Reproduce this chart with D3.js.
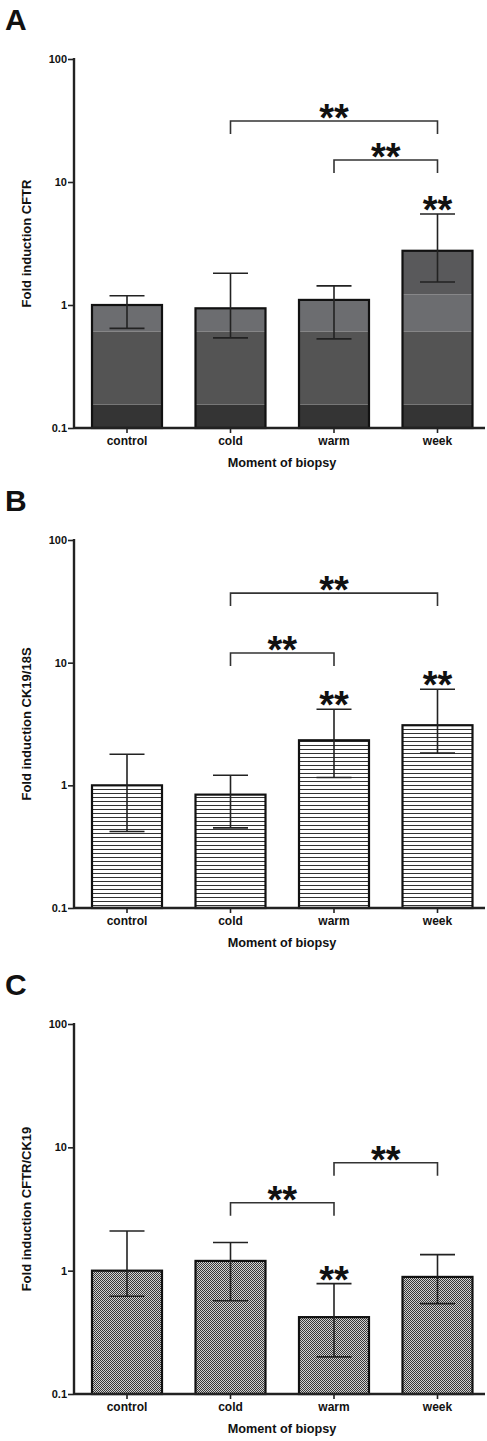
<!DOCTYPE html>
<html><head><meta charset="utf-8">
<script src="https://cdn.jsdelivr.net/npm/d3@7"></script>
<style>body{margin:0;background:#fff}svg{display:block}text{font-family:"Liberation Sans",Arial,sans-serif;font-weight:bold;fill:#111}</style>
</head><body>
<script>
const categories = ["control", "cold", "warm", "week"];
const panelLetters = ["A", "B", "C"];
const yAxisTitles = ["Fold induction CFTR", "Fold induction CK19/18S", "Fold induction CFTR/CK19"];
const xAxisTitle = "Moment of biopsy";
const yTickValues = [0.1, 1, 10, 100];
const yTickLabels = ["0.1", "1", "10", "100"];

const meanA = [1.00, 0.94, 1.10, 2.76];
const lowA  = [0.646, 0.54, 0.53, 1.54];
const highA = [1.19, 1.81, 1.43, 5.5];

const meanB = [1.00, 0.84, 2.33, 3.09];
const lowB  = [0.42, 0.45, 1.16, 1.83];
const highB = [1.79, 1.21, 4.17, 6.07];

const meanC = [1.00, 1.20, 0.42, 0.89];
const lowC  = [0.62, 0.57, 0.20, 0.54];
const highC = [2.10, 1.69, 0.785, 1.35];

// significance brackets: [from, to, level]
const bracketsA = [["cold", "week", 31.3], ["warm", "week", 15.1]];
const bracketsB = [["cold", "week", 36.9], ["cold", "warm", 12.0]];
const bracketsC = [["warm", "week", 7.49], ["cold", "warm", 3.55]];
// stars above individual bars
const starsA = ["week"];
const starsB = ["warm", "week"];
const starsC = ["warm"];

const panels = [
  {mean: meanA, low: lowA, high: highA, brackets: bracketsA, stars: starsA, top: 59, bottom: 428, fill: "bands"},
  {mean: meanB, low: lowB, high: highB, brackets: bracketsB, stars: starsB, top: 540, bottom: 908, fill: "url(#hlines)"},
  {mean: meanC, low: lowC, high: highC, brackets: bracketsC, stars: starsC, top: 1024, bottom: 1394, fill: "url(#checker)"}
];
const bandStyle = [[0.1, 0.155, "#343434"], [0.155, 0.61, "#545454"], [0.61, 1.22, "#6c6d70"], [1.22, 1000, "#59595b"]];

const W = 487, H = 1441;
const svg = d3.select("body").append("svg").attr("width", W).attr("height", H);
const defs = svg.append("defs");
const hl = defs.append("pattern").attr("id", "hlines").attr("patternUnits", "userSpaceOnUse").attr("width", 8).attr("height", 4);
hl.append("rect").attr("width", 8).attr("height", 4).attr("fill", "#fff");
hl.append("rect").attr("y", 1).attr("width", 8).attr("height", 1).attr("fill", "#333");
const ck = defs.append("pattern").attr("id", "checker").attr("patternUnits", "userSpaceOnUse").attr("width", 2).attr("height", 2);
ck.append("rect").attr("width", 2).attr("height", 2).attr("fill", "#d2d2d2");
ck.append("rect").attr("width", 1).attr("height", 1).attr("fill", "#383838");
ck.append("rect").attr("x", 1).attr("y", 1).attr("width", 1).attr("height", 1).attr("fill", "#383838");

const x = d3.scaleBand().domain(categories).range([75.25, 489.25]).paddingInner(0.3237).paddingOuter(0.3237 / 2);
const axisX0 = 74, axisX1 = 485;

panels.forEach((p, pi) => {
  const g = svg.append("g");
  const y = d3.scaleLog().domain([0.1, 100]).range([p.bottom, p.top]);

  g.append("text").attr("x", 5).attr("y", p.top - 29).attr("font-size", 30).text(panelLetters[pi]);

  // bars
  categories.forEach((c, i) => {
    const x0 = x(c), bw = x.bandwidth(), m = p.mean[i];
    if (p.fill === "bands") {
      bandStyle.forEach(([lo, hi, col]) => {
        const top = Math.min(hi, m);
        if (top > lo) g.append("rect").attr("x", x0).attr("width", bw)
          .attr("y", y(top)).attr("height", y(lo) - y(top)).attr("fill", col);
      });
    } else {
      g.append("rect").attr("x", x0).attr("width", bw).attr("y", y(m)).attr("height", y(0.1) - y(m)).attr("fill", p.fill);
    }
    g.append("rect").attr("x", x0).attr("width", bw).attr("y", y(m)).attr("height", y(0.1) - y(m))
      .attr("fill", "none").attr("stroke", "#111").attr("stroke-width", 2.2);
    // error bars
    const cx = x0 + bw / 2, cw = 17.5;
    g.append("line").attr("x1", cx).attr("x2", cx).attr("y1", y(p.low[i])).attr("y2", y(p.high[i])).attr("stroke", "#222").attr("stroke-width", 1.6);
    [p.low[i], p.high[i]].forEach(v => g.append("line").attr("x1", cx - cw).attr("x2", cx + cw).attr("y1", y(v)).attr("y2", y(v)).attr("stroke", "#222").attr("stroke-width", 1.6));
  });

  // axes
  const ya = d3.axisLeft(y).tickValues(yTickValues).tickFormat((d, i) => yTickLabels[i]).tickSize(6).tickPadding(1);
  const yg = g.append("g").attr("transform", `translate(${axisX0},0)`).call(ya);
  yg.select(".domain").remove();
  yg.selectAll("line").attr("stroke", "#222").attr("stroke-width", 1.6);
  yg.selectAll("text").attr("font-size", 11).attr("font-family", "Liberation Sans, Arial, sans-serif").attr("font-weight", "bold").attr("fill", "#111");
  g.append("line").attr("x1", axisX0).attr("x2", axisX0).attr("y1", p.top - 1).attr("y2", p.bottom).attr("stroke", "#222").attr("stroke-width", 2.4);

  const xa = d3.axisBottom(x).tickSize(5).tickPadding(3);
  const xg = g.append("g").attr("transform", `translate(0,${p.bottom})`).call(xa);
  xg.select(".domain").remove();
  xg.selectAll("line").attr("stroke", "#222").attr("stroke-width", 1.6);
  xg.selectAll("text").attr("font-size", 12).attr("font-family", "Liberation Sans, Arial, sans-serif").attr("font-weight", "bold").attr("fill", "#111");
  g.append("line").attr("x1", axisX0).attr("x2", axisX1).attr("y1", p.bottom).attr("y2", p.bottom).attr("stroke", "#222").attr("stroke-width", 2.4);

  g.append("text").attr("x", 282).attr("y", p.bottom + 39).attr("text-anchor", "middle").attr("font-size", 12.7).text(xAxisTitle);
  g.append("text").attr("transform", `translate(30.5,${(p.top + p.bottom) / 2}) rotate(-90)`).attr("text-anchor", "middle").attr("font-size", 13).text(yAxisTitles[pi]);

  const center = c => x(c) + x.bandwidth() / 2;
  // brackets
  p.brackets.forEach(([a, b, lv]) => {
    const yy = y(lv), x1 = center(a), x2 = center(b);
    g.append("path").attr("d", `M${x1},${yy + 13}V${yy}H${x2}V${yy + 13}`).attr("fill", "none").attr("stroke", "#333").attr("stroke-width", 1.6);
    g.append("text").attr("x", (x1 + x2) / 2).attr("y", yy + 10).attr("text-anchor", "middle").attr("font-size", 38).text("**");
  });
  p.stars.forEach(c => {
    const i = categories.indexOf(c);
    g.append("text").attr("x", center(c)).attr("y", y(p.high[i]) + 9).attr("text-anchor", "middle").attr("font-size", 38).text("**");
  });
});
</script>
</body></html>
